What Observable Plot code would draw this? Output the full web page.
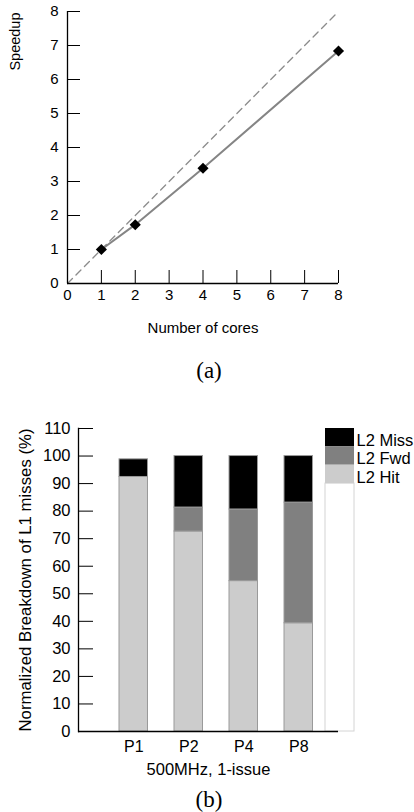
<!DOCTYPE html>
<html>
<head>
<meta charset="utf-8">
<script src="https://cdn.jsdelivr.net/npm/d3@7"></script>
<script src="https://cdn.jsdelivr.net/npm/@observablehq/plot@0.6"></script>
<style>
  html, body { margin: 0; padding: 0; background: #fff; }
  #page { position: relative; width: 414px; height: 812px; overflow: hidden; font-family: "Liberation Sans", Arial, sans-serif; }
  #chartA { position: absolute; left: 0; top: 0; }
  #chartB { position: absolute; left: 0; top: 390px; }
  .caption { position: absolute; left: 0; width: 414px; text-align: center; padding-left: 4px; box-sizing: border-box;
             font-family: "Liberation Serif", "Times New Roman", serif; font-size: 23px; line-height: 24px; color: #000; }
  #capA { top: 359px; }
  #capB { top: 788px; }
</style>
</head>
<body>
<div id="page">
  <div id="chartA"></div>
  <div class="caption" id="capA">(a)</div>
  <div id="chartB"></div>
  <div class="caption" id="capB">(b)</div>
</div>
<script>
// ---- Chart (a) data ----
const cores = [1, 2, 4, 8];
const speedup = [1.0, 1.73, 3.39, 6.84];
const idealCores = [0, 8];
const idealSpeedup = [0, 8];
const coreTicks = [0, 1, 2, 3, 4, 5, 6, 7, 8];
const speedupTicks = [0, 1, 2, 3, 4, 5, 6, 7, 8];

// ---- Chart (b) data ----
const groups = ["P1", "P2", "P4", "P8"];
const l2Hit = [92.4, 72.6, 54.6, 39.3];
const l2Fwd = [0, 8.7, 26.0, 43.8];
const l2Miss = [6.4, 18.7, 19.4, 16.9];
const breakdownTicks = [0, 10, 20, 30, 40, 50, 60, 70, 80, 90, 100, 110];
const seriesNames = ["L2 Hit", "L2 Fwd", "L2 Miss"];
const seriesColors = ["#cccccc", "#808080", "#000000"];
const legendOrder = ["L2 Miss", "L2 Fwd", "L2 Hit"];

// Build tables
const measured = cores.map((c, i) => ({cores: c, speedup: speedup[i]}));
const ideal = idealCores.map((c, i) => ({cores: c, speedup: idealSpeedup[i]}));
const seriesValues = [l2Hit, l2Fwd, l2Miss];
const breakdown = [];
groups.forEach((g, gi) => {
  seriesNames.forEach((s, si) => breakdown.push({group: g, series: s, value: seriesValues[si][gi]}));
});

const yMaxB = 110, legendBottom = 90;
const slot = (yMaxB - legendBottom) / legendOrder.length;
const legend = legendOrder.map((s, i) => ({series: s, top: yMaxB - i * slot, bottom: yMaxB - (i + 1) * slot}));

const chartA = Plot.plot({
  width: 414, height: 345,
  marginLeft: 67, marginRight: 76, marginTop: 11, marginBottom: 62,
  style: {fontFamily: "'Liberation Sans', Arial, sans-serif", fontSize: "14.5px", color: "#000", background: "white"},
  x: {domain: [0, 8]},
  y: {domain: [0, 8]},
  marks: [
    Plot.line(ideal, {x: "cores", y: "speedup", stroke: "#8c8c8c", strokeWidth: 1.3, strokeDasharray: "7,5"}),
    Plot.line(measured, {x: "cores", y: "speedup", stroke: "#858585", strokeWidth: 2}),
    Plot.dot(measured, {x: "cores", y: "speedup", symbol: "diamond2", r: 5, fill: "#000", stroke: "none"}),
    Plot.axisY(speedupTicks, {tickSize: -13, tickPadding: 22, label: null, stroke: "#000", fontSize: 15}),
    Plot.axisX(coreTicks, {tickSize: -13, tickPadding: 19, label: null, stroke: "#000", fontSize: 15}),
    Plot.ruleX([0], {stroke: "#000", strokeWidth: 1.3}),
    Plot.ruleY([0], {stroke: "#000", strokeWidth: 1.3}),
    Plot.text(["Speedup"], {text: d => d, frameAnchor: "top-left", rotate: -90, textAnchor: "end", lineAnchor: "middle", dx: -52, dy: 1}),
    Plot.text(["Number of cores"], {text: d => d, frameAnchor: "bottom", lineAnchor: "middle", dy: 45, fontSize: 15})
  ]
});
document.getElementById("chartA").appendChild(chartA);

const chartB = Plot.plot({
  width: 414, height: 390,
  marginLeft: 78, marginRight: 76, marginTop: 38, marginBottom: 49,
  style: {fontFamily: "'Liberation Sans', Arial, sans-serif", fontSize: "16px", color: "#000", background: "white"},
  x: {type: "band", domain: groups, range: [119, 312.5], paddingInner: 0.482, paddingOuter: 0, round: false},
  y: {domain: [0, yMaxB]},
  color: {domain: seriesNames, range: seriesColors},
  marks: [
    Plot.rect([0], {y1: 0, y2: legendBottom, fill: "white", stroke: "#d4d4d4", insetLeft: 247, insetRight: -16}),
    Plot.rect(legend, {y1: "bottom", y2: "top", fill: "series", insetLeft: 247, insetRight: -16}),
    Plot.text(legend, {y: "bottom", text: "series", frameAnchor: "right", textAnchor: "start", lineAnchor: "bottom", dx: 18, dy: -1, fontSize: 16.5}),
    Plot.barY(breakdown, {x: "group", y: "value", fill: "series", stroke: "#9a9a9a", strokeWidth: 1}),
    Plot.axisY(breakdownTicks, {tickSize: -15, tickPadding: 23, label: null, stroke: "#000", fontSize: 16.5}),
    Plot.axisX({tickSize: 0, tickPadding: 9, label: null, fontSize: 16}),
    Plot.frame({anchor: "left", stroke: "#000", strokeWidth: 1.3}),
    Plot.ruleY([0], {stroke: "#000", strokeWidth: 1.3}),
    Plot.text(["Normalized Breakdown of L1 misses (%)"], {text: d => d, frameAnchor: "left", rotate: -90, textAnchor: "middle", lineAnchor: "middle", dx: -53, fontSize: 16.8}),
    Plot.text(["500MHz, 1-issue"], {text: d => d, frameAnchor: "bottom", lineAnchor: "middle", dy: 38, fontSize: 16.5})
  ]
});
document.getElementById("chartB").appendChild(chartB);
</script>
</body>
</html>
